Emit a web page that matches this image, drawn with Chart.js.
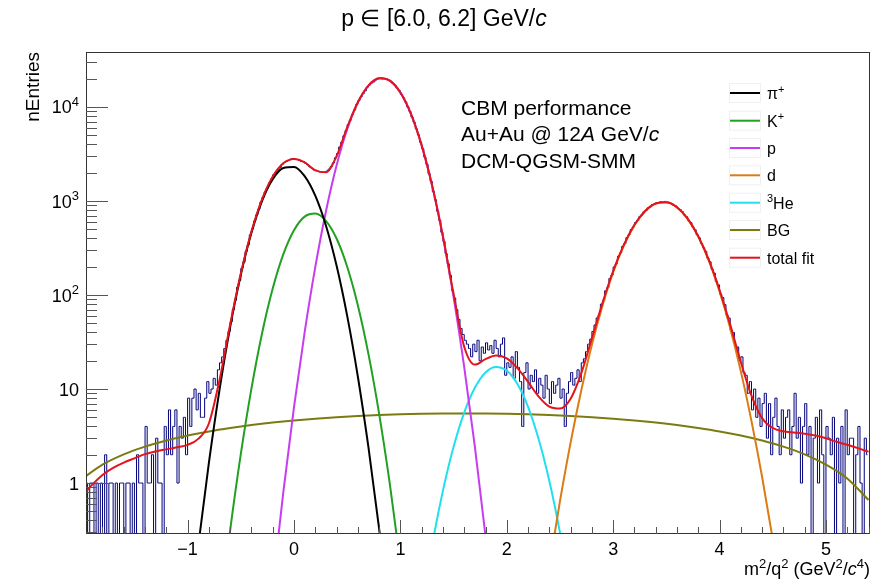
<!DOCTYPE html>
<html><head><meta charset="utf-8">
<script src="https://cdn.jsdelivr.net/npm/chart.js@4/dist/chart.umd.min.js"></script>
<style>html,body{margin:0;padding:0;background:#fff;}canvas{display:block;}</style>
</head><body>
<canvas id="c" width="880" height="580"></canvas>
<script>
// ---------- axis ranges ----------
const X_MIN = -1.955, X_MAX = 5.414;
const Y_MIN = 0.287, Y_MAX = 38460;
const xTickValues = [-1, 0, 1, 2, 3, 4, 5];
const xTickLabels = ['\u22121', '0', '1', '2', '3', '4', '5'];
const yTickValues = [1, 10, 100, 1000, 10000];
const yTickLabels = ['1', '10', '10^{2}', '10^{3}', '10^{4}'];

// ---------- histogram (bin width 0.02 starting at -1.96) ----------
const binStart = -1.96;
const binWidth = 0.02;
const histCounts = [
  1,0,1,1,0,1,0,1,0,2,
  0,1,1,0,1,0,1,1,0,1,
  1,0,1,0,2,1,1,0,4,1,
  1,2,0,3,1,1,0,4,2,6,
  2,4,6,1,4,3,5,2,8,4,
  8,10,6,9,5,5,8,12,9,10,
  13,11,16,19,22,27,33,41,52,70,
  88,121,143,192,224,290,341,436,505,612,
  712,818,975,1098,1249,1372,1560,1712,1903,1995,
  2150,2270,2460,2570,2640,2700,2780,2820,2790,2760,
  2700,2640,2620,2520,2420,2300,2230,2140,2120,2070,
  2040,2010,2030,2080,2180,2330,2540,2880,3200,3750,
  4240,4950,5610,6490,7250,8310,9300,10620,11680,12790,
  13880,14870,16300,17150,17960,18520,19380,19900,20300,20360,
  20180,19990,19350,18820,17850,17040,15860,14900,13590,12520,
  11340,10010,8990,7790,6880,5850,5070,4220,3610,2930,
  2460,1950,1620,1260,1030,780,625,465,372,276,
  215,162,112,93,70,55,44,38,33,30,
  27,22,30,25,33,20,28,24,31,26,
  29,24,33,27,22,30,35,14,19,17,
  22,13,25,17,12,4,15,19,10,14,
  12,16,9,13,11,8,14,10,7,12,
  9,11,13,8,10,4,9,12,15,11,
  13,16,12,19,21,25,30,34,41,48,
  57,61,80,87,111,120,150,163,199,215,
  258,280,329,352,409,438,497,529,589,620,
  680,709,770,795,848,870,915,925,960,958,
  985,970,990,958,945,940,899,884,835,810,
  770,710,680,619,590,528,495,437,405,352,
  318,292,247,226,188,171,139,128,102,94,
  79,61,57,42,40,29,28,20,22,15,
  14,9,12,6,10,5,8,4,7,9,
  3,7,2,5,8,4,2,6,3,5,
  6,2,4,9,3,5,1,4,7,2,
  4,0,3,5,1,6,2,0,4,3,
  2,5,0,3,1,4,0,6,2,3,
  3,0,2,4,1,0,3,2
];

// ---------- fitted components (sampled) ----------
const piX = [-1.0,-0.9,-0.8,-0.7,-0.6,-0.5,-0.4,-0.3,-0.2,-0.1,0.0,0.1,0.2,0.3,0.4,0.5,0.6,0.7,0.8,0.9];
const piY = [0.0217,0.214,1.64,9.8,45.5,164,460,1004,1703,2245,2302,1837,1138,549,206,60,13.6,2.39,0.328,0.035];

const kX = [-0.7,-0.6,-0.5,-0.4,-0.3,-0.2,-0.1,0.0,0.1,0.2,0.3,0.4,0.5,0.6,0.7,0.8,0.9,1.0,1.1];
const kY = [0.038,0.315,2.03,10.1,39.2,117,272,489,682,736,616,399,200,78,23.5,5.48,0.99,0.139,0.015];

const pX = [-0.3,-0.2,-0.1,0.0,0.1,0.2,0.3,0.4,0.5,0.6,0.7,0.8,0.9,1.0,1.1,1.2,1.3,1.4,1.5,1.6,1.7,1.8,1.9,2.0];
const pY = [0.006,0.08,0.807,6.4,40.1,198,774,2384,5800,11140,16880,20210,19090,14250,8390,3900,1431,414,94.8,17.1,2.44,0.274,0.024,0.0017];

const dX = [2.3,2.4,2.5,2.6,2.7,2.8,2.9,3.0,3.1,3.2,3.3,3.4,3.5,3.6,3.7,3.8,3.9,4.0,4.1,4.2,4.3,4.4,4.5,4.6];
const dY = [0.023,0.131,0.641,2.69,9.64,29.6,77.6,175,336,553,778,938,968,855,646,418,231,109,44.4,15.4,4.56,1.16,0.252,0.047];

const heX = [1.2,1.3,1.4,1.5,1.6,1.7,1.8,1.9,2.0,2.1,2.2,2.3,2.4,2.5,2.6];
const heY = [0.048,0.224,0.83,2.43,5.62,10.3,15.0,17.2,15.7,11.3,6.47,2.92,1.05,0.297,0.067];

const bgX = [-2.0,-1.8,-1.6,-1.4,-1.2,-1.0,-0.8,-0.6,-0.4,-0.2,0.0,0.2,0.4,0.6,0.8,1.0,1.2,1.4,1.6,1.8,2.0,2.2,2.4,2.6,2.8,3.0,3.2,3.4,3.6,3.8,4.0,4.2,4.4,4.6,4.8,5.0,5.2,5.4];
const bgY = [1.09,1.57,2.02,2.44,2.83,3.20,3.54,3.85,4.14,4.40,4.63,4.83,5.01,5.16,5.28,5.38,5.45,5.49,5.50,5.49,5.45,5.38,5.28,5.16,5.01,4.83,4.63,4.40,4.14,3.85,3.54,3.20,2.83,2.44,2.02,1.57,1.12,0.66];

const totX = [-2.0,-1.9,-1.8,-1.7,-1.6,-1.5,-1.4,-1.3,-1.2,-1.1,-1.0,-0.9,-0.8,-0.7,-0.6,-0.5,-0.4,-0.3,-0.2,-0.1,
  0.0,0.1,0.2,0.3,0.4,0.5,0.6,0.7,0.8,0.9,1.0,1.1,1.2,1.3,1.4,1.5,1.6,1.7,1.8,1.9,
  2.0,2.1,2.2,2.3,2.4,2.5,2.6,2.7,2.8,2.9,3.0,3.1,3.2,3.3,3.4,3.5,3.6,3.7,3.8,3.9,
  4.0,4.1,4.2,4.3,4.4,4.5,4.6,4.7,4.8,4.9,5.0,5.1,5.2,5.3,5.4];
const totY = [0.7,0.95,1.22,1.45,1.65,1.83,2.03,2.17,2.28,2.4,2.55,2.95,4.3,12.5,48.5,169,473,1047,1824,2522,
  2801,2580,2120,2020,2994,6065,11237,16911,20221,19096,14255,8395,3905,1436,420,102.7,28.2,18.2,20.8,22.7,
  21.2,16.7,11.9,8.3,6.5,6.2,7.9,14.7,34.6,82.5,180,341,558,783,942,972,859,650,422,235,
  113,48.4,19.4,8.5,4.9,3.85,3.55,3.45,3.35,3.2,3.0,2.75,2.55,2.35,2.15];

const legendLabels = ['\u03c0^{+}', 'K^{+}', 'p', 'd', '^{3}He', 'BG', 'total fit'];
const infoLines = ['CBM performance', 'Au+Au @ 12#it{A} GeV/#it{c}', 'DCM-QGSM-SMM'];
const titleText = 'p \u2208 [6.0, 6.2] GeV/#it{c}';
const xTitleText = 'm^{2}/q^{2} (GeV^{2}/#it{c}^{4})';
const yTitleText = 'nEntries';

// ---------- colours ----------
const COL = {
  hist: '#00007c', pi: '#000000', k: '#22a022', p: '#c83cf0', d: '#dc7a14',
  he: '#20e0f0', bg: '#7b7b12', tot: '#e3141c'
};
const FONT = "'Liberation Sans', Arimo, Arial, Helvetica, sans-serif";

// ---------- build datasets ----------
const pts = (xs, ys) => xs.map((x, i) => ({ x: x, y: ys[i] }));
const histPts = histCounts.map((c, i) => ({ x: binStart + (i + 0.5) * binWidth, y: c > 0 ? c : 1e-3 }));

function fitDs(label, xs, ys, color) {
  return { label, data: pts(xs, ys), borderColor: color, borderWidth: 2, pointRadius: 0,
           fill: false, cubicInterpolationMode: 'monotone' };
}

const datasets = [
  fitDs('total fit', totX, totY, COL.tot),
  fitDs('pi', piX, piY, COL.pi),
  fitDs('K', kX, kY, COL.k),
  fitDs('p', pX, pY, COL.p),
  fitDs('d', dX, dY, COL.d),
  fitDs('He3', heX, heY, COL.he),
  fitDs('BG', bgX, bgY, COL.bg),
  { label: 'data', data: histPts, borderColor: COL.hist, borderWidth: 1, pointRadius: 0,
    stepped: 'middle', fill: false, tension: 0 }
];
const legendColors = [COL.pi, COL.k, COL.p, COL.d, COL.he, COL.bg, COL.tot];

// ---------- rich text helper ----------
function richParts(s) {
  const out = []; const re = /\^\{([^}]*)\}|#it\{([^}]*)\}/g; let last = 0, m;
  while ((m = re.exec(s))) {
    if (m.index > last) out.push({ t: s.slice(last, m.index) });
    if (m[1] !== undefined) out.push({ t: m[1], sup: true }); else out.push({ t: m[2], it: true });
    last = re.lastIndex;
  }
  if (last < s.length) out.push({ t: s.slice(last) });
  return out;
}
function drawRich(ctx, s, x, y, size, align) {
  const parts = richParts(s); let w = 0;
  parts.forEach(p => {
    p.font = (p.it ? 'italic ' : '') + (p.sup ? Math.round(size * 0.7) : size) + 'px ' + FONT;
    ctx.font = p.font; p.w = ctx.measureText(p.t).width; w += p.w;
  });
  let cx = align === 'right' ? x - w : (align === 'center' ? x - w / 2 : x);
  ctx.textAlign = 'left'; ctx.textBaseline = 'alphabetic';
  parts.forEach(p => { ctx.font = p.font; ctx.fillText(p.t, cx, p.sup ? y - size * 0.4 : y); cx += p.w; });
}

// ---------- overlay plugin: frame, ticks, labels, legend ----------
const overlay = {
  id: 'overlay',
  afterDraw(chart) {
    const ctx = chart.ctx, a = chart.chartArea, xs = chart.scales.x, ys = chart.scales.y;
    ctx.save();
    // frame
    ctx.strokeStyle = '#333'; ctx.lineWidth = 1;
    ctx.strokeRect(Math.round(a.left) + 0.5, Math.round(a.top) + 0.5, Math.round(a.right - a.left) - 1, Math.round(a.bottom - a.top) - 1);
    // x ticks every 0.2
    ctx.strokeStyle = '#555';
    ctx.beginPath();
    for (let k = -9; k <= 27; k++) {
      const v = k * 0.2; if (v < X_MIN || v > X_MAX) continue;
      const px = Math.round(xs.getPixelForValue(v)) + 0.5;
      const len = (k % 5 === 0) ? 14 : 7;
      ctx.moveTo(px, a.bottom); ctx.lineTo(px, a.bottom - len);
    }
    // y ticks (log)
    for (let e = -1; e <= 4; e++) {
      for (let m = 1; m <= 9; m++) {
        const v = m * Math.pow(10, e); if (v < Y_MIN || v > Y_MAX) continue;
        const py = Math.round(ys.getPixelForValue(v)) + 0.5;
        const len = (m === 1) ? 22 : 11;
        ctx.moveTo(a.left, py); ctx.lineTo(a.left + len, py);
      }
    }
    ctx.stroke();
    ctx.fillStyle = '#000';
    // x tick labels
    xTickValues.forEach((v, i) => drawRich(ctx, xTickLabels[i], xs.getPixelForValue(v), 555, 18, 'center'));
    // y tick labels
    yTickValues.forEach((v, i) => drawRich(ctx, yTickLabels[i], 79, ys.getPixelForValue(v) + 6.5, 18, 'right'));
    // titles
    drawRich(ctx, titleText, 444, 26, 23, 'center');
    drawRich(ctx, xTitleText, 870, 575, 18, 'right');
    ctx.save(); ctx.translate(39, 52); ctx.rotate(-Math.PI / 2);
    drawRich(ctx, yTitleText, 0, 0, 19, 'right'); ctx.restore();
    // info text
    infoLines.forEach((s, i) => drawRich(ctx, s, 461, 115 + i * 26.3, 21, 'left'));
    // legend
    const rowY = [93, 120.7, 148, 175.3, 202.7, 230, 257.7];
    legendLabels.forEach((s, i) => {
      const y = rowY[i];
      ctx.strokeStyle = '#f0f0f0'; ctx.lineWidth = 1;
      ctx.strokeRect(729.5, y - 9.5, 31, 19);
      ctx.strokeStyle = legendColors[i]; ctx.lineWidth = 2;
      ctx.beginPath(); ctx.moveTo(730, y); ctx.lineTo(760, y); ctx.stroke();
      ctx.fillStyle = '#000';
      drawRich(ctx, s, 767, y + 6, 16, 'left');
    });
    ctx.restore();
  }
};

new Chart(document.getElementById('c').getContext('2d'), {
  type: 'line',
  data: { datasets },
  options: {
    responsive: false, animation: false, devicePixelRatio: 1,
    layout: { padding: { left: 0, right: 10, top: 52, bottom: 0 } },
    plugins: { legend: { display: false }, tooltip: { enabled: false }, title: { display: false } },
    elements: { point: { radius: 0 } },
    scales: {
      x: { type: 'linear', min: X_MIN, max: X_MAX, grid: { display: false, drawTicks: false },
           border: { display: false }, ticks: { display: false }, afterFit: s => { s.height = 46; } },
      y: { type: 'logarithmic', min: Y_MIN, max: Y_MAX, grid: { display: false, drawTicks: false },
           border: { display: false }, ticks: { display: false }, afterFit: s => { s.width = 86; } }
    }
  },
  plugins: [overlay]
});
</script>
</body></html>
